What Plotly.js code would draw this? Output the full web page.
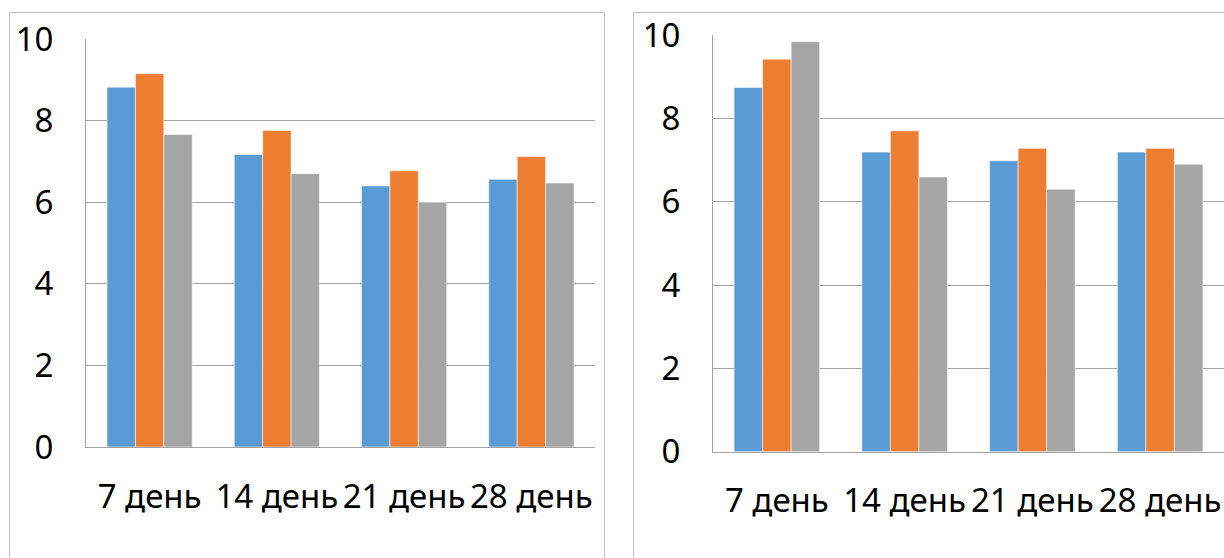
<!DOCTYPE html>
<html>
<head>
<meta charset="utf-8">
<script src="https://cdn.plot.ly/plotly-3.0.1.min.js"></script>
<style>html,body{margin:0;padding:0;background:#fff;}#chart{width:1224px;height:558px;}</style>
</head>
<body>
<div id="chart"></div>
<script>
const categories = ['7 день', '14 день', '21 день', '28 день'];
const yTicks = [0, 2, 4, 6, 8, 10];
// Left chart
const leftSeries1 = [8.82, 7.17, 6.40, 6.56];
const leftSeries2 = [9.15, 7.76, 6.77, 7.12];
const leftSeries3 = [7.66, 6.70, 6.00, 6.47];
// Right chart
const rightSeries1 = [8.74, 7.19, 6.98, 7.19];
const rightSeries2 = [9.42, 7.70, 7.28, 7.28];
const rightSeries3 = [9.84, 6.59, 6.30, 6.90];

const colors = ['#5B9BD5', '#ED7D31', '#A5A5A5'];
const W = 1224, H = 558;
const barLine = {width: 0.8, color: 'rgba(255,255,255,0.7)'};

function bar(y, i, xa, ya) {
  return {type: 'bar', x: categories, y: y, xaxis: xa, yaxis: ya,
    marker: {color: colors[i], line: barLine}, hoverinfo: 'skip', showlegend: false};
}

const data = [
  bar(leftSeries1, 0, 'x', 'y'), bar(leftSeries2, 1, 'x', 'y'), bar(leftSeries3, 2, 'x', 'y'),
  bar(rightSeries1, 0, 'x2', 'y2'), bar(rightSeries2, 1, 'x2', 'y2'), bar(rightSeries3, 2, 'x2', 'y2')
];

const tickFont = {family: 'Noto Sans, sans-serif', size: 33, color: '#000'};
const gridColor = '#a3a3a3';

function xAxis(domain, anchor) {
  return {domain: domain, anchor: anchor, type: 'category', showgrid: false, zeroline: false,
    showline: true, linecolor: gridColor, linewidth: 1, ticks: '', tickfont: tickFont,
    ticklabelstandoff: 20, fixedrange: true};
}
function yAxis(domain, anchor) {
  return {domain: domain, anchor: anchor, range: [0, 10], tickvals: yTicks, ticktext: yTicks.map(String),
    showgrid: true, gridcolor: gridColor, gridwidth: 1, zeroline: false, showline: true,
    linecolor: gridColor, linewidth: 1, ticks: '', tickfont: tickFont, ticklabelstandoff: 25,
    fixedrange: true};
}

const layout = {
  width: W, height: H, margin: {l: 0, r: 0, t: 0, b: 0},
  paper_bgcolor: '#fff', plot_bgcolor: '#fff',
  barmode: 'group', bargap: 0.33, bargroupgap: 0,
  xaxis: xAxis([86 / W, 595 / W], 'y'),
  yaxis: yAxis([1 - 447 / H, 1 - 39 / H], 'x'),
  xaxis2: xAxis([713 / W, 1], 'y2'),
  yaxis2: yAxis([1 - 451.7 / H, 1 - 35 / H], 'x2'),
  shapes: [
    {type: 'rect', xref: 'paper', yref: 'paper', x0: 9.5 / W, x1: 604.5 / W, y0: -0.05, y1: 1 - 12.5 / H,
      line: {color: '#bfbfbf', width: 1}, fillcolor: 'rgba(0,0,0,0)', layer: 'below'},
    {type: 'rect', xref: 'paper', yref: 'paper', x0: 633.5 / W, x1: 1.05, y0: -0.05, y1: 1 - 12.5 / H,
      line: {color: '#bfbfbf', width: 1}, fillcolor: 'rgba(0,0,0,0)', layer: 'below'}
  ],
  hovermode: false
};

Plotly.newPlot('chart', data, layout, {displayModeBar: false, staticPlot: true});
</script>
</body>
</html>
